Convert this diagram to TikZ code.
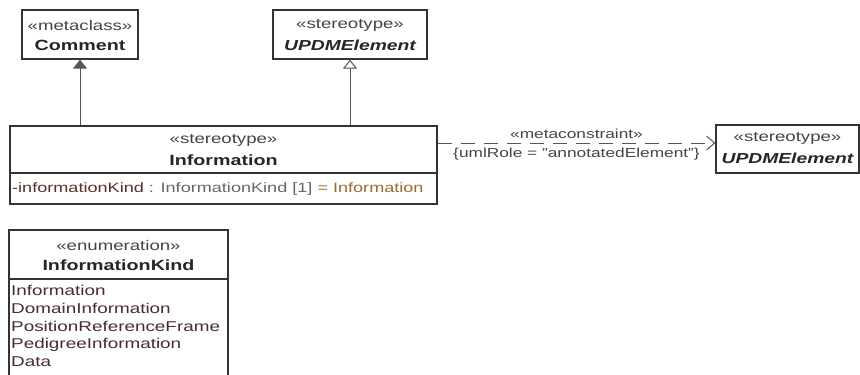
\documentclass[tikz,border=0pt]{standalone}
\usepackage{fontspec}
\setmainfont[FakeStretch=1.33]{Liberation Sans}
\usetikzlibrary{arrows.meta}
\definecolor{boxline}{HTML}{333333}
\definecolor{stereo}{HTML}{444444}
\definecolor{attrname}{HTML}{5A2E2E}
\definecolor{attrtype}{HTML}{666666}
\definecolor{attrval}{HTML}{9C6A30}
\definecolor{literal}{HTML}{4A2C2C}
\definecolor{conn}{HTML}{555555}
\tikzset{
  umlbox/.style={draw=boxline, line width=1.3pt, rectangle, inner sep=0pt, fill=white},
  stereotxt/.style={font=\fontsize{14}{15}\selectfont, text=stereo, inner sep=0pt},
  nametxt/.style={font=\fontsize{14.8}{16}\selectfont\bfseries, text=black!85, inner sep=0pt},
  abstxt/.style={font=\fontsize{14.5}{16}\selectfont\bfseries\itshape, text=black!85, inner sep=0pt},
  linetxt/.style={font=\fontsize{14.2}{15}\selectfont, inner sep=0pt, anchor=base west},
  attrtxt/.style={font=\fontsize{13.6}{15}\selectfont, inner sep=0pt, anchor=base west},
  labeltxt/.style={font=\fontsize{13}{14}\selectfont, text=stereo, inner sep=0pt},
  conline/.style={draw=conn, line width=1pt},
}
\begin{document}
\begin{tikzpicture}[x=1pt,y=-1pt]
\useasboundingbox (0,0) rectangle (860,375);
% boxes
\node[umlbox, minimum width=116pt, minimum height=49pt] (comment) at (80,34.5) {};
\node[umlbox, minimum width=154pt, minimum height=49pt] (updmA) at (350,34.5) {};
\node[umlbox, minimum width=427pt, minimum height=78pt] (info) at (223.5,165) {};
\node[umlbox, minimum width=143pt, minimum height=48pt] (updmB) at (787.5,149) {};
\begin{scope}
\clip (0,0) rectangle (860,375);
\node[umlbox, minimum width=219pt, minimum height=150pt] (enum) at (118.5,305) {};
\end{scope}
% separators
\draw[draw=boxline, line width=1.3pt] (info.west |- 0,173) -- (info.east |- 0,173);
\draw[draw=boxline, line width=1.3pt] (enum.west |- 0,279) -- (enum.east |- 0,279);
% texts
\node[stereotxt] (commentSt) at (80,25) {«metaclass»};
\node[nametxt] (commentNm) at (80,45) {Comment};
\node[stereotxt] (updmASt) at (350,25) {«stereotype»};
\node[abstxt] (updmANm) at (350,45) {UPDMElement};
\node[stereotxt] (infoSt) at (223.5,140) {«stereotype»};
\node[nametxt] (infoNm) at (223.5,160) {Information};
\node[attrtxt] (infoAttr) at (12,192) {\textcolor{attrname}{-informationKind}\ \textcolor{attrtype}{: InformationKind [1]}\ \textcolor{attrval}{= Information}};
\node[stereotxt] (updmBSt) at (787.5,138) {«stereotype»};
\node[abstxt] (updmBNm) at (787.5,158) {UPDMElement};
\node[stereotxt] (enumSt) at (118.5,245) {«enumeration»};
\node[nametxt] (enumNm) at (118.5,265) {InformationKind};
\node[linetxt, text=literal] (lit1) at (11,295) {Information};
\node[linetxt, text=literal] (lit2) at (11,313) {DomainInformation};
\node[linetxt, text=literal] (lit3) at (11,331) {PositionReferenceFrame};
\node[linetxt, text=literal] (lit4) at (11,348.5) {PedigreeInformation};
\node[linetxt, text=literal] (lit5) at (11,366) {Data};
% connectors
\draw[conline, -{Triangle[length=9pt, width=14pt, fill=conn]}] (info.north -| comment.south) -- (comment.south);
\draw[conline, -{Triangle[open, length=9pt, width=14pt, fill=white]}] (info.north -| updmA.south) -- (updmA.south);
\draw[conline, dash pattern=on 14pt off 9pt, -{Straight Barb[length=8pt, width=14pt]}] ([yshift=22pt]info.east) -- ([yshift=6pt]updmB.west)
  node[labeltxt, pos=0.5, above=4pt] (mcLabel) {«metaconstraint»}
  node[labeltxt, pos=0.5, below=5pt] (roleLabel) {\{umlRole = "annotatedElement"\}};
\end{tikzpicture}
\end{document}
